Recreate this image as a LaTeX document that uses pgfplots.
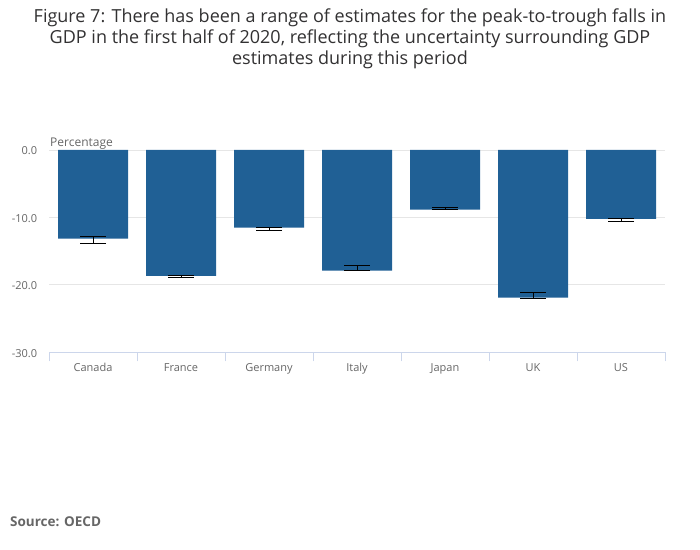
\documentclass[border=0pt]{standalone}
\usepackage{pgfplots}
\pgfplotsset{compat=1.18}
\usepackage{fontspec}
\setmainfont{Open Sans}
\definecolor{barblue}{HTML}{206095}
\definecolor{axblue}{HTML}{CCD6EB}
\definecolor{gridgray}{HTML}{E6E6E6}
\definecolor{txtgray}{HTML}{666666}
\definecolor{titlegray}{HTML}{323132}
\begin{document}
\begin{tikzpicture}[x=1pt,y=1pt]
\path[use as bounding box] (0pt,0pt) rectangle (700pt,549pt);
\node[anchor=north, align=center, font=\fontsize{18}{21}\selectfont, text=titlegray, inner sep=0pt] at (350pt,540pt)
{Figure 7: There has been a range of estimates for the peak-to-trough falls in\\GDP in the first half of 2020, reflecting the uncertainty surrounding GDP\\estimates during this period};
\node[anchor=base west, font=\fontsize{12}{14}\selectfont, text=txtgray, inner sep=0pt] at (50pt,402pt) {Percentage};
\node[anchor=base west, font=\bfseries\fontsize{13.5}{15}\selectfont, text=txtgray, inner sep=0pt] at (10pt,23pt) {Source: OECD};
\begin{axis}[
  at={(49pt,196.7pt)}, anchor=south west,
  scale only axis, width=616pt, height=202.3pt,
  xmin=-0.5, xmax=6.5, ymin=-30, ymax=0,
  axis line style={draw=none},
  axis x line*=bottom,
  x axis line style={draw=axblue, line width=1pt},
  xtick={0,...,6},
  xticklabels={Canada,France,Germany,Italy,Japan,UK,US},
  major x tick style={draw=none},
  minor xtick={-0.5,0.5,...,6.5},
  minor tick length=9pt,
  minor x tick style={draw=axblue, line width=1pt},
  tick align=outside,
  x tick label style={font=\fontsize{11}{13}\selectfont, text=txtgray, text height=8pt, text depth=2.5pt, yshift=-3pt},
  ytick={-30,-20,-10,0},
  major y tick style={draw=none},
  ymajorgrids, y grid style={gridgray, line width=0.8pt},
  y tick label style={font=\fontsize{11}{13}\selectfont, text=txtgray, yshift=-1pt},
  yticklabel style={/pgf/number format/.cd, fixed, fixed zerofill, precision=1, assume math mode=true},
  ytick pos=left,
  yticklabel shift=4pt,
  clip=false,
]
\addplot[ybar, bar width=70pt, fill=barblue, draw=none] table {
x y
0 -13.16
1 -18.65
2 -11.5
3 -17.9
4 -8.85
5 -21.9
6 -10.2
};
\addplot[draw=none, mark=none, forget plot,
  error bars/.cd, y dir=both, y explicit,
  error bar style={black, line width=1pt},
  error mark options={black, line width=1pt, mark size=13pt, rotate=90}]
  table[x=x, y=mid, y error=half] {
x mid half
0 -13.375 0.475
1 -18.75 0.15
2 -11.685 0.215
3 -17.475 0.375
4 -8.65 0.15
5 -21.55 0.45
6 -10.355 0.225
};
\end{axis}
\end{tikzpicture}
\end{document}
